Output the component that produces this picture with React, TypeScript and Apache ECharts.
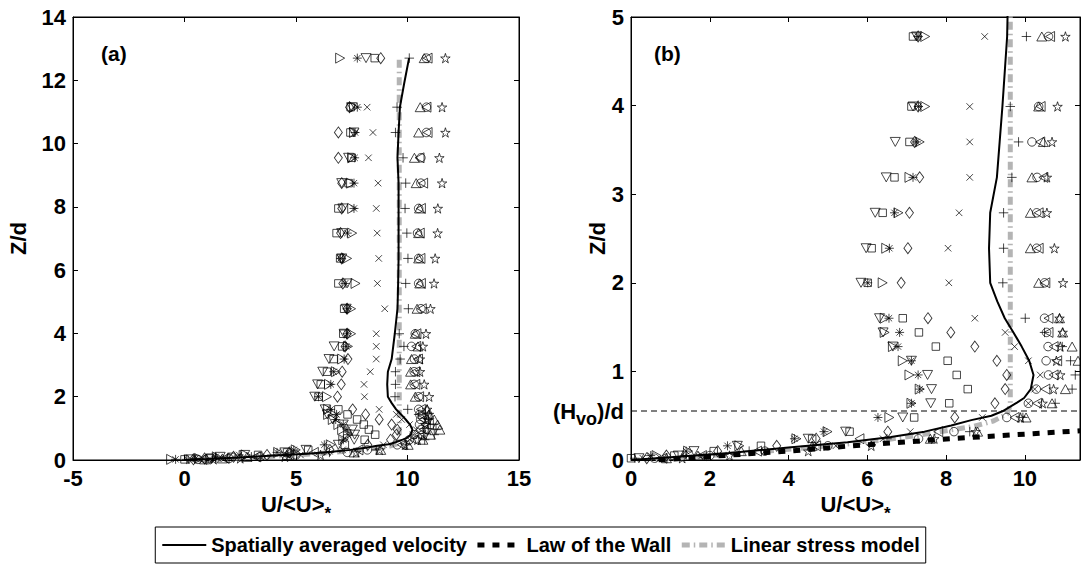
import React, { useEffect, useRef } from "react";
import * as echarts from "echarts";

// ---------- DATA ----------
// Measurement heights (Z/d) shared by all profiles
const zLevels = [12.7, 11.15, 10.35, 9.55, 8.75, 7.95, 7.17, 6.37, 5.58, 4.78, 3.99, 3.59, 3.19, 2.79, 2.39, 2.0, 1.6, 1.44, 1.28, 1.12, 0.96, 0.8, 0.64, 0.48];
const zNearWall = [0.32, 0.24, 0.16, 0.1, 0.05, 0.02];

// U/<U>* per profile (marker type)
const uTriRight = [6.98, 7.6, 7.6, 7.52, 7.47, 7.52, 7.52, 7.29, 7.67, 7.47, 7.47, 7.33, 7.07, 6.79, 6.48, 6.39, 6.44, 6.44, 6.65, 6.9, 7.07, 7.33, 7.12, 6.56];
const uTriRightNear = [4.99, 4.2, 2.75, 1.45, 0.65, -0.6];
const uAsterisk = [7.75, 7.75, 7.65, 7.63, 7.6, 7.6, 7.3, 7.0, 7.2, 7.29, 7.3, 7.25, 7.16, 6.69, 6.56, 6.01, 6.55, 6.82, 6.78, 7.12, 7.29, 7.33, 7.12, 6.27];
const uAsteriskNear = [4.9, 4.15, 2.45, 1.4, 0.5, -0.4];
const uTriDown = [8.14, 7.5, 7.6, 7.36, 7.05, 7.1, 7.05, 7.05, 7.29, 7.25, 7.16, 6.71, 6.48, 6.2, 5.97, 5.84, 6.31, 6.4, 6.65, 7.12, 7.53, 7.63, 7.61, 6.9];
const uTriDownNear = [5.45, 4.5, 2.7, 1.6, 1.2, 0.2];
const uSquare = [8.53, 7.45, 7.44, 7.5, 7.36, 6.9, 6.82, 6.98, 6.9, 7.16, 7.12, 7.07, 6.69, 6.39, 6.11, 6.01, 6.9, 7.31, 7.74, 8.04, 8.27, 8.55, 8.08, 7.19];
const uSquareNear = [5.55, 4.6, 3.3, 2.1, 1.1, 0.0];
const uDiamond = [8.8, 7.4, 6.9, 6.9, 7.05, 7.05, 7.0, 7.05, 7.1, 7.29, 7.29, 7.2, 7.33, 7.07, 7.03, 6.86, 7.54, 8.12, 8.73, 9.29, 9.54, 9.5, 9.24, 8.22];
const uDiamondNear = [6.52, 4.7, 3.7, 2.2, 0.9, 0.4];
const uCross = [null, 8.19, 8.45, 8.25, 8.68, 8.6, 8.64, 8.71, 8.65, 8.98, 8.6, 8.6, 8.6, 8.33, 8.05, 8.07, 8.73, 9.5, 9.74, 10.09, 10.39, 10.25, 10.09, 8.92];
const uCrossNear = [7.09, 6.4, 5.2, 3.4, 1.8, 0.3];
const uPlus = [10.08, 9.53, 9.46, 9.8, 9.92, 9.89, 9.97, 10.02, 9.92, 10.04, 9.63, 9.84, 9.67, 9.46, 9.46, 9.44, 10.01, 10.5, 10.95, 11.16, 11.28, 11.2, 10.77, 9.95];
const uPlusNear = [8.6, 6.5, 4.6, 3.0, 1.4, 0.1];
const uCircle = [10.85, 10.85, 10.85, 10.6, 10.6, 10.5, 10.45, 10.5, 10.5, 10.6, 10.35, 10.18, 10.31, 10.3, 10.3, 10.5, 10.5, 10.55, 10.59, 10.54, 10.6, 10.29, 10.09, 9.54];
const uCircleNear = [8.2, 7.3, 5.0, 3.4, 2.0, 0.6];
const uTriLeft = [10.9, 10.85, 10.9, 10.54, 10.7, 10.6, 10.55, 10.58, 10.6, 10.64, 10.4, 10.39, 10.47, 10.35, 10.35, 10.52, 10.6, 10.6, 10.73, 10.82, 10.73, 10.52, 10.31, 9.74];
const uTriLeftNear = [7.8, 5.8, 4.7, 3.2, 1.8, 0.8];
const uTriUp = [10.75, 10.57, 10.5, 10.31, 10.39, 10.54, 10.5, 10.5, 10.55, 10.43, 10.35, 10.47, 10.18, 10.14, 10.14, 10.35, 10.88, 10.96, 11.2, 11.35, 11.45, 11.03, 10.69, 10.03];
const uTriUpNear = [8.8, 7.6, 4.6, 2.8, 1.7, 0.9];
const uStar = [11.7, 11.55, 11.7, 11.43, 11.55, 11.36, 11.35, 11.24, 11.19, 11.03, 10.83, 10.69, 10.56, 10.56, 10.75, 10.97, 10.88, 10.96, 10.9, 10.8, 10.9, 10.73, 10.45, 9.89];
const uStarNear = [8.75, 7.7, 6.1, 4.5, 2.5, 1.3];

// Spatially averaged velocity profile
const meanU = [10.07, 9.85, 9.66, 9.6, 9.55, 9.6, 9.6, 9.6, 9.6, 9.58, 9.56, 9.55, 9.43, 9.36, 9.29, 9.12, 9.09, 9.12, 9.3, 9.49, 9.71, 9.92, 10.11, 10.22, 10.15, 9.98, 9.81, 9.43, 9.15, 8.64, 8.13, 7.45, 6.6, 5.5, 4.0, 2.5, 1.0, 0.0];
const meanZ = [12.7, 11.9, 11.15, 10.35, 9.55, 8.75, 7.95, 7.17, 6.37, 5.58, 5.0, 4.78, 3.99, 3.59, 3.19, 2.79, 2.39, 2.0, 1.79, 1.6, 1.44, 1.28, 1.12, 0.96, 0.8, 0.7, 0.65, 0.55, 0.5, 0.45, 0.39, 0.32, 0.26, 0.2, 0.14, 0.08, 0.03, 0.0];
// Law of the wall
const wallU = [0.7, 2.0, 4.0, 5.6, 8.1, 11.4];
const wallZ = [0.0, 0.04, 0.1, 0.16, 0.24, 0.33];
// Linear stress model
const stressU = [9.63, 9.63, 9.55, 9.2, 8.7, 8.0, 7.3, 6.5, 5.5, 4.0, 2.0, 0.5];
const stressZ = [12.65, 0.62, 0.52, 0.44, 0.38, 0.33, 0.28, 0.23, 0.18, 0.12, 0.05, 0.0];
// Vegetation height
const hvoOverD = 0.553;

// axes ticks
const aXTicks = [-5, 0, 5, 10, 15];
const aYTicks = [0, 2, 4, 6, 8, 10, 12, 14];
const bXTicks = [0, 2, 4, 6, 8, 10];
const bYTicks = [0, 1, 2, 3, 4, 5];

const legendNames = ["Spatially averaged velocity", "Law of the Wall", "Linear stress model"];

// ---------- STYLE ----------
const FONT = "'Liberation Sans', Arial, Helvetica, sans-serif";
const GRAY = "#b4b4b4";
const FS = 22;

const STAR =
  "path://M5,0L6.117,3.463L9.755,3.455L6.807,5.587L7.939,9.045L5,6.9L2.061,9.045L3.193,5.587L0.245,3.455L3.883,3.463Z";

const markerDefs = [
  { name: "m1", symbol: "path://M0,0L9,5L0,10Z", size: [9, 10], u: uTriRight, un: uTriRightNear },
  { name: "m2", symbol: "path://M5,0V10M0,5H10M1.5,1.5L8.5,8.5M8.5,1.5L1.5,8.5", size: [9, 9], u: uAsterisk, un: uAsteriskNear },
  { name: "m3", symbol: "path://M0,0L10,0L5,9Z", size: [10, 9], u: uTriDown, un: uTriDownNear },
  { name: "m4", symbol: "path://M0,0H10V10H0Z", size: [7.5, 7.5], u: uSquare, un: uSquareNear },
  { name: "m5", symbol: "path://M5,0L10,6L5,12L0,6Z", size: [8, 11], u: uDiamond, un: uDiamondNear },
  { name: "m6", symbol: "path://M0,0L10,10M10,0L0,10", size: [6.5, 6.5], u: uCross, un: uCrossNear },
  { name: "m7", symbol: "path://M5,0V10M0,5H10", size: [9.5, 9.5], u: uPlus, un: uPlusNear },
  { name: "m8", symbol: "circle", size: [8.5, 8.5], u: uCircle, un: uCircleNear },
  { name: "m9", symbol: "path://M9,0L0,5L9,10Z", size: [9, 10], u: uTriLeft, un: uTriLeftNear },
  { name: "m10", symbol: "path://M5,0L10,9L0,9Z", size: [10, 9], u: uTriUp, un: uTriUpNear },
  { name: "m11", symbol: STAR, size: [9.5, 9.5], u: uStar, un: uStarNear },
];

function pairs(u: (number | null)[], z: number[]) {
  const out: number[][] = [];
  u.forEach((v, i) => {
    if (v !== null && v !== undefined) out.push([v, z[i]]);
  });
  return out;
}

const tickLabel = { fontFamily: FONT, fontWeight: "bold" as const, fontSize: FS, color: "#000" };

function xAxisDef(grid: number, min: number, max: number, ticks: number[], top = false) {
  return {
    type: "value",
    gridIndex: grid,
    position: top ? "top" : "bottom",
    min,
    max,
    interval: ticks[1] - ticks[0],
    nameMoveOverlap: false,
    axisLine: { show: true, onZero: false, lineStyle: { color: "#000", width: 1 } },
    axisTick: { show: true, inside: true, length: 5, lineStyle: { color: "#000" }, customValues: ticks },
    axisLabel: top ? { show: false } : { ...tickLabel, margin: 7, customValues: ticks },
    splitLine: { show: false },
    ...(top
      ? {}
      : {
          name: "U/<U>{s|*}",
          nameLocation: "middle",
          nameGap: 26,
          nameTextStyle: {
            fontFamily: FONT,
            fontWeight: "bold",
            fontSize: FS,
            color: "#000",
            lineHeight: 36,
            rich: { s: { fontFamily: FONT, fontWeight: "bold", fontSize: 17, lineHeight: 14, verticalAlign: "bottom", color: "#000" } },
          },
        }),
  };
}

function yAxisDef(grid: number, min: number, max: number, ticks: number[], right = false, labelValues?: number[], nameGap = 45) {
  return {
    type: "value",
    gridIndex: grid,
    position: right ? "right" : "left",
    min,
    max,
    interval: ticks[1] - ticks[0],
    nameMoveOverlap: false,
    axisLine: { show: true, onZero: false, lineStyle: { color: "#000", width: 1 } },
    axisTick: { show: true, inside: true, length: 5, lineStyle: { color: "#000" }, customValues: ticks },
    axisLabel: right
      ? { show: false }
      : {
          ...tickLabel,
          margin: 7,
          lineHeight: 34,
          customValues: labelValues || ticks,
          formatter: (v: number) => (Math.abs(v - hvoOverD) < 1e-6 ? "(H{s|vo})/d" : String(v)),
          rich: { s: { fontFamily: FONT, fontWeight: "bold", fontSize: 18, lineHeight: 16, verticalAlign: "bottom", color: "#000" } },
        },
    splitLine: { show: false },
    ...(right
      ? {}
      : {
          name: "Z/d",
          nameLocation: "middle",
          nameGap,
          nameTextStyle: { fontFamily: FONT, fontWeight: "bold", fontSize: FS, color: "#000" },
        }),
  };
}

function buildOption() {
  const series: any[] = [];
  // markers in both panels
  for (let g = 0; g < 2; g++) {
    markerDefs.forEach((m) => {
      series.push({
        type: "scatter",
        name: m.name,
        xAxisIndex: g,
        yAxisIndex: g,
        symbol: m.symbol,
        symbolSize: m.size,
        clip: true,
        silent: true,
        itemStyle: { color: "rgba(0,0,0,0)", borderColor: "#000", borderWidth: 0.9 },
        data: [...pairs(m.u, zLevels), ...pairs(m.un, zNearWall)],
        z: 3,
      });
    });
  }
  const noSym = { color: "rgba(0,0,0,0)", borderWidth: 0, opacity: 0 };
  for (let g = 0; g < 2; g++) {
    series.push({
      type: "line",
      name: legendNames[2],
      xAxisIndex: g,
      yAxisIndex: g,
      showSymbol: false,
      symbol: "none",
      clip: true,
      silent: true,
      lineStyle: { color: GRAY, width: 5, type: [8, 4, 1.5, 4], cap: "butt" },
      itemStyle: noSym,
      data: pairs(stressU, stressZ),
      z: 2,
    });
    series.push({
      type: "line",
      name: legendNames[0],
      xAxisIndex: g,
      yAxisIndex: g,
      showSymbol: false,
      symbol: "none",
      clip: true,
      silent: true,
      lineStyle: { color: "#000", width: 2, type: "solid" },
      itemStyle: noSym,
      data: pairs(meanU, meanZ),
      z: 4,
    });
  }
  series.push({
    type: "line",
    name: legendNames[1],
    xAxisIndex: 1,
    yAxisIndex: 1,
    showSymbol: false,
    symbol: "none",
    clip: true,
    silent: true,
    lineStyle: { color: "#000", width: 5, type: [7, 8], cap: "butt" },
    itemStyle: noSym,
    data: pairs(wallU, wallZ),
    z: 4,
  });
  series.push({
    type: "line",
    name: "hvo",
    xAxisIndex: 1,
    yAxisIndex: 1,
    showSymbol: false,
    symbol: "none",
    clip: true,
    silent: true,
    lineStyle: { color: "#000", width: 1, type: [6, 4] },
    itemStyle: noSym,
    data: [
      [0, hvoOverD],
      [11.4, hvoOverD],
    ],
    z: 1,
  });

  return {
    animation: false,
    backgroundColor: "#fff",
    grid: [
      { left: 73, top: 14, width: 446, height: 446, show: true, borderColor: "#000", borderWidth: 1, backgroundColor: "#fff" },
      { left: 631, top: 14, width: 449, height: 446, show: true, borderColor: "#000", borderWidth: 1, backgroundColor: "#fff" },
    ],
    xAxis: [
      xAxisDef(0, -5, 15, aXTicks),
      xAxisDef(1, 0, 11.4, bXTicks),
      xAxisDef(0, -5, 15, aXTicks, true),
      xAxisDef(1, 0, 11.4, bXTicks, true),
    ],
    yAxis: [
      yAxisDef(0, 0, 14, aYTicks, false, aYTicks, 44),
      yAxisDef(1, 0, 5, bYTicks, false, [0, hvoOverD, 1, 2, 3, 4, 5], 23),
      yAxisDef(0, 0, 14, aYTicks, true),
      yAxisDef(1, 0, 5, bYTicks, true),
    ],
    legend: {
      data: legendNames,
      left: "center",
      top: 527,
      orient: "horizontal",
      itemWidth: 44,
      itemHeight: 12,
      itemGap: 8,
      padding: [8, 6, 8, 6],
      borderColor: "#000",
      borderWidth: 1,
      backgroundColor: "#fff",
      itemStyle: { opacity: 0 },
      lineStyle: { width: "inherit" },
      textStyle: { fontFamily: FONT, fontWeight: "bold", fontSize: 20, color: "#000" },
      selectedMode: false,
    },
    graphic: [
      { type: "text", left: 101, top: 43, style: { text: "(a)", fontFamily: FONT, fontWeight: "bold", fontSize: 21, fill: "#000" } },
      { type: "text", left: 654, top: 43, style: { text: "(b)", fontFamily: FONT, fontWeight: "bold", fontSize: 21, fill: "#000" } },
    ],
    series,
  };
}

export default function App() {
  const ref = useRef<HTMLDivElement>(null);
  useEffect(() => {
    if (!ref.current) return;
    const chart = echarts.init(ref.current, null, { renderer: "svg" });
    chart.setOption(buildOption() as any);
    return () => chart.dispose();
  }, []);
  return <div ref={ref} style={{ position: "absolute", left: 0, top: 0, width: 1081, height: 578, background: "#fff" }} />;
}
